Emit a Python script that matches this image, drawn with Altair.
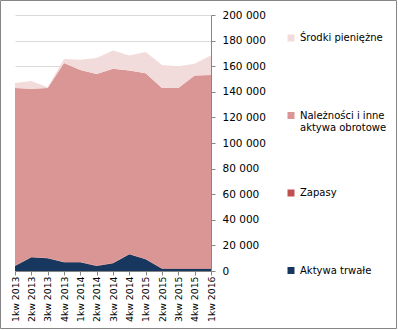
import altair as alt
import pandas as pd

quarters = ["1kw 2013", "2kw 2013", "3kw 2013", "4kw 2013", "1kw 2014", "2kw 2014",
            "3kw 2014", "4kw 2014", "1kw 2015", "2kw 2015", "3kw 2015", "4kw 2015", "1kw 2016"]

aktywa_trwale = [3900, 10700, 9900, 6800, 6800, 3900, 6000, 13000, 9100, 1700, 1700, 1700, 1700]
zapasy = [300, 300, 300, 300, 300, 300, 300, 300, 300, 500, 500, 500, 500]
naleznosci = [138800, 131300, 132800, 155400, 149900, 149700, 151800, 143300, 145100,
              140800, 140800, 150500, 151000]
srodki = [3900, 6200, 500, 3100, 8100, 12500, 14200, 11700, 16600, 17900, 16900, 9300, 15300]

series_names = ["Aktywa trwałe", "Zapasy", "Należności i inne aktywa obrotowe", "Środki pieniężne"]
series_values = [aktywa_trwale, zapasy, naleznosci, srodki]
series_colors = ["#17375e", "#c0504d", "#d99694", "#f2dcdb"]

y_ticks = list(range(0, 200001, 20000))

rows = []
for order, (name, vals) in enumerate(zip(series_names, series_values)):
    for q, v in zip(quarters, vals):
        rows.append({"kwartal": q, "seria": name, "wartosc": v, "kolejnosc": order})
df = pd.DataFrame(rows)

legend_order = list(reversed(series_names))
legend_colors = list(reversed(series_colors))

FONT = "DejaVu Sans"

area = alt.Chart(df).mark_area(interpolate="linear").encode(
    x=alt.X("kwartal:O", sort=quarters, scale=alt.Scale(padding=0),
            axis=alt.Axis(title=None, labelAngle=-90, labelFont=FONT, labelFontSize=9.3,
                          labelColor="#000000", domainColor="#868686", tickColor="#868686",
                          tickSize=4, labelPadding=1, grid=False)),
    y=alt.Y("wartosc:Q", stack="zero", scale=alt.Scale(domain=[0, 200000], nice=False),
            axis=alt.Axis(title=None, orient="right", values=y_ticks,
                          labelExpr="replace(format(datum.value, ',d'), ',', ' ')",
                          labelFont=FONT, labelFontSize=10.5, labelColor="#000000",
                          domainColor="#868686", tickColor="#868686", tickSize=4,
                          labelPadding=7, grid=True, gridColor="#d9d9d9", gridWidth=1)),
    color=alt.Color("seria:N", scale=alt.Scale(domain=legend_order, range=legend_colors),
                    legend=alt.Legend(title=None, orient="none", legendX=271, legendY=18,
                                      symbolType="square", symbolSize=49, symbolStrokeWidth=0,
                                      labelFont=FONT, labelFontSize=10, labelColor="#000000",
                                      labelLimit=200, padding=0, rowPadding=55.5, gridAlign="all",
                                      labelExpr="datum.label == 'Należności i inne aktywa obrotowe' ? ['Należności i inne', 'aktywa obrotowe'] : datum.label")),
    order=alt.Order("kolejnosc:Q"),
)

border = alt.Chart(pd.DataFrame({"k": [0]})).mark_rect(
    filled=False, stroke="#868686", strokeWidth=1
).encode(
    x=alt.value(-14.5), x2=alt.value(381.5), y=alt.value(-14.5), y2=alt.value(313.5)
)

chart = alt.layer(area, border).properties(
    width=196, height=256,
    autosize=alt.AutoSizeParams(type="none"),
    padding={"left": 15, "top": 15, "right": 187, "bottom": 59},
    background="#ffffff",
).configure_view(strokeWidth=0)

chart.save("out.html", embed_options={"renderer": "svg", "actions": False})
